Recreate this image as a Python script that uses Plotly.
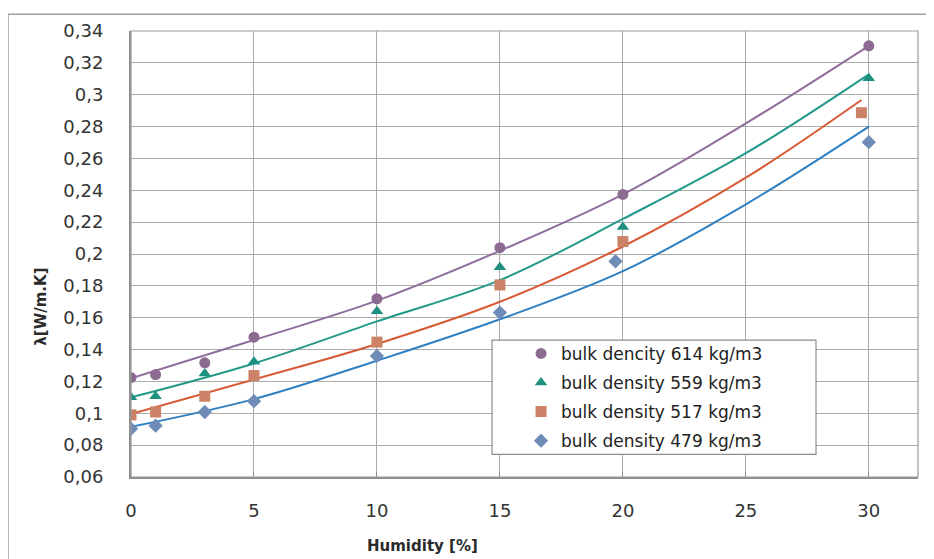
import plotly.graph_objects as go

# Measured data (humidity %, lambda W/m.K)
x_614 = [0, 1, 3, 5, 10, 15, 20, 30]
y_614 = [0.1224, 0.1243, 0.1317, 0.1478, 0.1719, 0.2040, 0.2374, 0.3307]
x_559 = [0, 1, 3, 5, 10, 15, 20, 30]
y_559 = [0.1100, 0.1107, 0.1250, 0.1324, 0.1640, 0.1917, 0.2170, 0.3103]
x_517 = [0, 1, 3, 5, 10, 15, 20, 29.7]
y_517 = [0.0990, 0.1008, 0.1107, 0.1237, 0.1447, 0.1806, 0.2078, 0.2887]
x_479 = [0, 1, 3, 5, 10, 15, 19.7, 30]
y_479 = [0.0903, 0.0922, 0.1008, 0.1076, 0.1360, 0.1632, 0.1954, 0.2702]

# Trend lines
tx_614 = [0, 5, 10, 15, 20, 25, 30]
ty_614 = [0.1220, 0.1460, 0.1707, 0.2020, 0.2374, 0.2820, 0.3307]
tx_559 = [0, 5, 10, 15, 20, 25, 30]
ty_559 = [0.1100, 0.1313, 0.1577, 0.1836, 0.2220, 0.2633, 0.3128]
tx_517 = [0, 5, 10, 15, 20, 25, 29.7]
ty_517 = [0.0996, 0.1212, 0.1435, 0.1700, 0.2047, 0.2479, 0.2967]
tx_479 = [0, 5, 10, 15, 20, 25, 30]
ty_479 = [0.0915, 0.1089, 0.1330, 0.1590, 0.1892, 0.2312, 0.2800]

names = ["bulk dencity 614 kg/m3", "bulk density 559 kg/m3",
         "bulk density 517 kg/m3", "bulk density 479 kg/m3"]
symbols = ["circle", "triangle-up", "square", "diamond"]
marker_colors = ["#8C6A92", "#1F9080", "#CC8266", "#6F8CB6"]
line_colors = ["#8F6E9C", "#23998A", "#D85A35", "#2F80C2"]
sizes = [11, 11, 11, 11]

xs = [x_614, x_559, x_517, x_479]
ys = [y_614, y_559, y_517, y_479]
txs = [tx_614, tx_559, tx_517, tx_479]
tys = [ty_614, ty_559, ty_517, ty_479]

fig = go.Figure()
for i in range(4):
    fig.add_trace(go.Scatter(
        x=txs[i], y=tys[i], mode="lines", line=dict(color=line_colors[i], width=2, shape="spline"),
        showlegend=False, hoverinfo="skip"))
for i in range(4):
    fig.add_trace(go.Scatter(
        x=xs[i], y=ys[i], mode="markers", name=names[i], legendgroup=str(i),
        marker=dict(symbol=symbols[i], color=marker_colors[i], size=sizes[i], line=dict(width=0))))

font = "DejaVu Sans"
fig.update_layout(
    width=926, height=551,
    margin=dict(l=123, r=16, t=16, b=82),
    paper_bgcolor="white", plot_bgcolor="white",
    font=dict(family=font, size=16, color="#333333"),
    showlegend=True,
    legend=dict(x=0.4956, y=0.3165, xanchor="left", yanchor="top",
                bgcolor="rgba(0,0,0,0)", borderwidth=0,
                font=dict(family=font, size=17, color="#222222"),
                tracegroupgap=4, traceorder="grouped"),
    xaxis=dict(range=[0, 32], tickmode="array", tickvals=[0, 5, 10, 15, 20, 25, 30],
               ticktext=["0", "5", "10", "15", "20", "25", "30"],
               showgrid=True, gridcolor="#ABABAB", gridwidth=1,
               showline=True, linecolor="#8C8C8C", linewidth=2, mirror=False,
               ticks="inside", ticklen=5, tickcolor="#8C8C8C",
               ticklabelstandoff=16, zeroline=False,
               tickfont=dict(family=font, size=18, color="#333333")),
    yaxis=dict(range=[0.06, 0.34], tickmode="array",
               tickvals=[0.06, 0.08, 0.10, 0.12, 0.14, 0.16, 0.18, 0.20, 0.22, 0.24, 0.26, 0.28, 0.30, 0.32, 0.34],
               ticktext=["0,06", "0,08", "0,1", "0,12", "0,14", "0,16", "0,18", "0,2",
                         "0,22", "0,24", "0,26", "0,28", "0,3", "0,32", "0,34"],
               showgrid=True, gridcolor="#ABABAB", gridwidth=1,
               showline=True, linecolor="#8C8C8C", linewidth=2,
               ticks="", ticklabelstandoff=22, zeroline=False,
               tickfont=dict(family=font, size=18, color="#333333")),
    shapes=[
        # outer chart border
        dict(type="rect", xref="paper", yref="paper", x0=-123/787, x1=1.2, y0=-0.3, y1=(477-7)/453,
             line=dict(color="#A0A0A0", width=1.5), fillcolor="rgba(0,0,0,0)", layer="below"),
        # plot area right/top frame
        dict(type="rect", xref="paper", yref="paper", x0=0, x1=1, y0=0, y1=1,
             line=dict(color="#9A9A9A", width=1.2), fillcolor="rgba(0,0,0,0)", layer="above"),
        # legend box
        dict(type="rect", xref="paper", yref="paper",
             x0=(492-131)/787, x1=(816-131)/787, y0=(477-454)/453, y1=(477-338)/453,
             line=dict(color="#8C8C8C", width=1.2), fillcolor="white", layer="above"),
    ],
    annotations=[
        dict(text="<b>Humidity [%]</b>", xref="paper", yref="paper",
             x=(422-131)/787, y=(477-547)/453, xanchor="center", yanchor="middle",
             showarrow=False, font=dict(family=font, size=15, color="#2A2A2A")),
        dict(text="<b>λ[W/m.K]</b>", xref="paper", yref="paper",
             x=(41-131)/787, y=(477-304)/453, xanchor="center", yanchor="middle",
             textangle=-90, showarrow=False, font=dict(family=font, size=15, color="#2A2A2A")),
    ],
)

fig.write_html("out.html")
